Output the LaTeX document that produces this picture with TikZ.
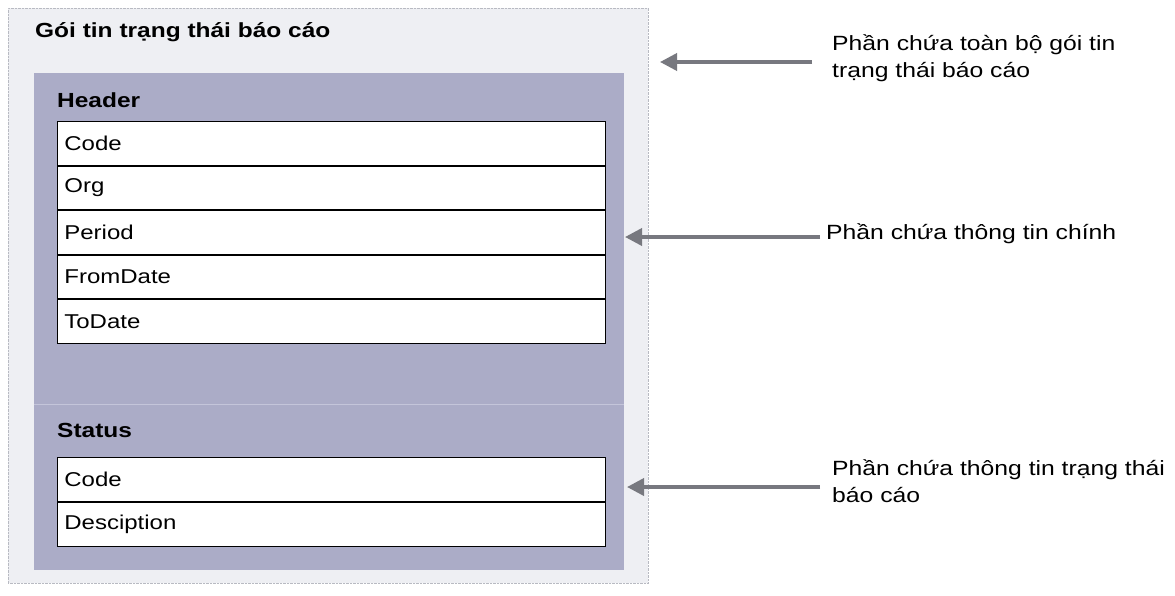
\documentclass[tikz,border=0pt]{standalone}
\usepackage{fontspec}
\setmainfont{Liberation Sans}[FakeStretch=1.2]
\usetikzlibrary{arrows.meta}
\definecolor{outerfill}{HTML}{EEEFF3}
\definecolor{outerline}{HTML}{B8BAC2}
\definecolor{innerfill}{HTML}{ABACC7}
\definecolor{sepline}{HTML}{C4C5DA}
\definecolor{arrowgray}{HTML}{77787F}
\begin{document}
\begin{tikzpicture}[x=1pt,y=-1pt,
  outerbox/.style={draw=outerline, densely dotted, fill=outerfill, anchor=north west,
    minimum width=640pt, minimum height=575pt, inner sep=0pt},
  innerbox/.style={fill=innerfill, anchor=north west,
    minimum width=590pt, minimum height=497pt, inner sep=0pt},
  rowbox/.style={draw=black, line width=0.7pt, fill=white, anchor=north west,
    minimum width=548pt, minimum height=#1, text width=534pt, inner xsep=7pt,
    align=left, font=\fontsize{20}{24}\selectfont},
  rowbox/.default=43.8pt,
  sectitle/.style={anchor=west, inner sep=0pt, font=\bfseries\fontsize{20.4}{24}\selectfont},
  note/.style={anchor=west, inner sep=0pt, align=left, font=\fontsize{20.6}{27}\selectfont},
  arr/.style={draw=arrowgray, line width=3.6pt,
    -{Triangle[length=17pt,width=17pt]}, shorten <=2pt}
]
\useasboundingbox (0,0) rectangle (1175,595);
\fill[white] (0,0) rectangle (1175,595);

\node[outerbox] (outer) at (8,8) {};
\node[sectitle] (title) at (35,32) {Gói tin trạng thái báo cáo};
\node[innerbox] (inner) at (34,73) {};
\draw[sepline, line width=1pt] (inner.west |- 0,404) -- (inner.east |- 0,404);

\node[sectitle] (hdr) at (57,100) {Header};
\node[rowbox] (h1) at (57,121) {Code};
\node[rowbox] (h2) at (h1.south west) {Org};
\node[rowbox] (h3) at (h2.south west) {Period};
\node[rowbox] (h4) at (h3.south west) {FromDate};
\node[rowbox] (h5) at (h4.south west) {ToDate};

\node[sectitle] (st) at (57,430) {Status};
\node[rowbox=44pt] (s1) at (57,457) {Code};
\node[rowbox=44pt] (s2) at (s1.south west) {Desciption};

\node[note] (t1) at (832,58) {Phần chứa toàn bộ gói tin\\trạng thái báo cáo};
\node[note] (t2) at (826,234) {Phần chứa thông tin chính};
\node[note] (t3) at (832,481) {Phần chứa thông tin trạng thái\\báo cáo};

\coordinate (a1) at (660,62);
\coordinate (a2) at (625,237);
\coordinate (a3) at (627,487);
\draw[arr] (t1.west |- a1) ++(-18,0) -- (a1);
\draw[arr] (t2.west |- a2) ++(-4,0) -- (a2);
\draw[arr] (t3.west |- a3) ++(-10,0) -- (a3);
\end{tikzpicture}
\end{document}
